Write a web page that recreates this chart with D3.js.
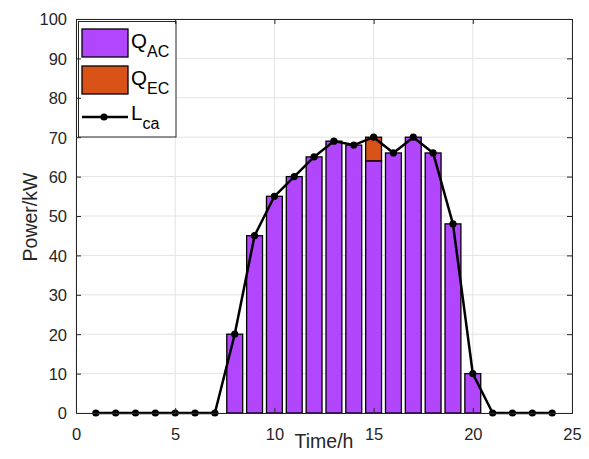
<!DOCTYPE html>
<html><head><meta charset="utf-8">
<script src="https://cdn.jsdelivr.net/npm/d3@7"></script>
<style>body{margin:0;background:#fff}svg{display:block;font-family:"Liberation Sans",Arial,sans-serif}</style>
</head><body>
<svg id="c" width="589" height="459"></svg>
<script>
const hours = [1,2,3,4,5,6,7,8,9,10,11,12,13,14,15,16,17,18,19,20,21,22,23,24];
const loadLca = [0,0,0,0,0,0,0,20,45,55,60,65,69,68,70,66,70,66,48,10,0,0,0,0];
const barHours = [8,9,10,11,12,13,14,15,16,17,18,19,20];
const qAC = [20,45,55,60,65,69,68,64,66,70,66,48,10];
const qEC = [0,0,0,0,0,0,0,6,0,0,0,0,0];
const xTicks = [0,5,10,15,20,25];
const yTicks = [0,10,20,30,40,50,60,70,80,90,100];

const svg = d3.select("#c");
const L = 76, R = 572, T = 19, B = 413;
const x = d3.scaleLinear().domain([0,25]).range([L,R]);
const y = d3.scaleLinear().domain([0,100]).range([B,T]);
const purple = "#B246FC", orange = "#D95319", txt = "#262626";

// grid
svg.append("g").selectAll("line").data(xTicks).join("line")
  .attr("x1",d=>x(d)).attr("x2",d=>x(d)).attr("y1",T).attr("y2",B)
  .attr("stroke","#e3e3e3").attr("stroke-width",1);
svg.append("g").selectAll("line").data(yTicks).join("line")
  .attr("y1",d=>y(d)).attr("y2",d=>y(d)).attr("x1",L).attr("x2",R)
  .attr("stroke","#e3e3e3").attr("stroke-width",1);

// bars
const bw = x(0.8)-x(0);
const bars = svg.append("g");
barHours.forEach((h,i)=>{
  bars.append("rect").attr("x",x(h)-bw/2).attr("width",bw)
    .attr("y",y(qAC[i])).attr("height",y(0)-y(qAC[i]))
    .attr("fill",purple).attr("stroke","#000").attr("stroke-width",1.3);
  if(qEC[i]>0){
    bars.append("rect").attr("x",x(h)-bw/2).attr("width",bw)
      .attr("y",y(qAC[i]+qEC[i])).attr("height",y(qAC[i])-y(qAC[i]+qEC[i]))
      .attr("fill",orange).attr("stroke","#000").attr("stroke-width",1.3);
  }
});

// line
const line = d3.line().x((d,i)=>x(hours[i])).y(d=>y(d));
svg.append("path").datum(loadLca).attr("d",line).attr("fill","none")
  .attr("stroke","#000").attr("stroke-width",2.5).attr("stroke-linejoin","round");
svg.append("g").selectAll("circle").data(loadLca).join("circle")
  .attr("cx",(d,i)=>x(hours[i])).attr("cy",d=>y(d)).attr("r",3.6).attr("fill","#000");

// legend (drawn before axes so axis lines stay visible)
const lg = svg.append("g");
lg.append("rect").attr("x",78.5).attr("y",21.5).attr("width",176-78.5).attr("height",137-21.5)
  .attr("fill","#fff").attr("stroke","#262626").attr("stroke-width",1);
const legendItems = [
  {main:"Q",sub:"AC",type:"bar",color:purple,cy:43},
  {main:"Q",sub:"EC",type:"bar",color:orange,cy:80},
  {main:"L",sub:"ca",type:"line",color:"#000",cy:117}
];
legendItems.forEach(it=>{
  if(it.type==="bar"){
    lg.append("rect").attr("x",82).attr("y",it.cy-14).attr("width",46).attr("height",28)
      .attr("fill",it.color).attr("stroke","#000").attr("stroke-width",1.3);
  } else {
    lg.append("line").attr("x1",82).attr("x2",128).attr("y1",it.cy).attr("y2",it.cy)
      .attr("stroke","#000").attr("stroke-width",2.5);
    lg.append("circle").attr("cx",104).attr("cy",it.cy).attr("r",3.6).attr("fill","#000");
  }
  const t = lg.append("text").attr("x",131).attr("y",it.type==="bar"?it.cy+5:it.cy+3).attr("font-size",20.5).attr("fill","#000");
  t.append("tspan").text(it.main);
  t.append("tspan").attr("dy",9).attr("font-size",16).text(it.sub);
});

// axes
const xAxis = d3.axisBottom(x).tickValues(xTicks).tickSize(-5).tickPadding(15);
const yAxis = d3.axisLeft(y).tickValues(yTicks).tickSize(-5).tickPadding(9);
const gx = svg.append("g").attr("transform",`translate(0,${B})`).call(xAxis);
const gy = svg.append("g").attr("transform",`translate(${L},0)`).call(yAxis);
svg.append("g").attr("transform",`translate(0,${T})`).call(d3.axisTop(x).tickValues(xTicks).tickSize(-5).tickFormat(""));
svg.append("g").attr("transform",`translate(${R},0)`).call(d3.axisRight(y).tickValues(yTicks).tickSize(-5).tickFormat(""));
svg.selectAll(".domain").attr("stroke","#262626").attr("stroke-width",1);
svg.selectAll(".tick line").attr("stroke","#262626");
[gx,gy].forEach(g=>g.selectAll("text").attr("font-size",16.5).attr("fill",txt).attr("font-family","Liberation Sans, Arial, sans-serif"));
gy.selectAll("text").attr("dy","0.36em");

svg.append("text").attr("x",x(12.5)).attr("y",448).attr("text-anchor","middle")
  .attr("font-size",19.5).attr("fill",txt).text("Time/h");
svg.append("text").attr("transform",`translate(37,${y(50)+1}) rotate(-90)`).attr("text-anchor","middle")
  .attr("font-size",19.5).attr("fill",txt).text("Power/kW");
</script>
</body></html>
